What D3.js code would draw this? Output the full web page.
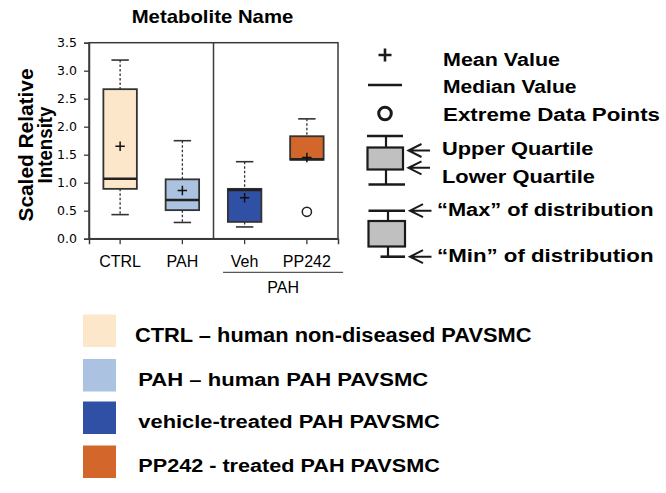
<!DOCTYPE html>
<html>
<head>
<meta charset="utf-8">
<script src="https://cdn.jsdelivr.net/npm/d3@7"></script>
<style>
  html, body { margin: 0; padding: 0; background: #fff; }
  svg { display: block; }
  text { font-family: "Liberation Sans", Arial, sans-serif; fill: #000; }
</style>
</head>
<body>
<script>
// ---------------- data ----------------
const categories  = ["CTRL", "PAH", "Veh", "PP242"];
const whiskerMax  = [3.19, 1.75, 1.375, 2.14];
const upperQ      = [2.67, 1.06, 0.89, 1.83];
const medians     = [1.07, 0.69, 0.87, 1.42];
const lowerQ      = [0.89, 0.51, 0.30, 1.41];
const whiskerMin  = [0.43, 0.29, 0.21, 1.41];
const means       = [1.65, 0.86, 0.73, 1.45];
const outlierCats   = ["PP242"];
const outlierValues = [0.48];
const yTicks      = [0, 0.5, 1.0, 1.5, 2.0, 2.5, 3.0, 3.5];
const groupCats   = ["Veh", "PP242"];
const groupLabel  = "PAH";
const boxColors   = ["#fde7cb", "#abc3e1", "#3050a6", "#d2662b"];
const legendLabels = [
  "CTRL \u2013 human non-diseased PAVSMC",
  "PAH \u2013 human PAH PAVSMC",
  "vehicle-treated PAH PAVSMC",
  "PP242 - treated PAH PAVSMC"
];
const keyLabels = [
  "Mean Value", "Median Value", "Extreme Data Points",
  "Upper Quartile", "Lower Quartile",
  "\u201cMax\u201d of distribution", "\u201cMin\u201d of distribution"
];
const chartTitle = "Metabolite Name";
const yTitleLines = ["Scaled Relative", "Intensity"];

// ---------------- layout ----------------
const W = 666, H = 493;
const plot = { left: 89, right: 338, top: 42.7, bottom: 238.7 };
const svg = d3.select("body").append("svg").attr("width", W).attr("height", H);
svg.append("rect").attr("width", W).attr("height", H).attr("fill", "#fff");

const x = d3.scaleBand().domain(categories)
  .range([plot.left, plot.right]).paddingInner(0.462).paddingOuter(0.231);
const y = d3.scaleLinear().domain([0, 3.5]).range([plot.bottom, plot.top]);
const cx = c => x(c) + x.bandwidth() / 2;

// frame
svg.append("rect")
  .attr("x", plot.left).attr("y", plot.top)
  .attr("width", plot.right - plot.left).attr("height", plot.bottom - plot.top)
  .attr("fill", "none").attr("stroke", "#3a3a3a").attr("stroke-width", 1.5);

// divider between groups
const divX = (x("PAH") + x.bandwidth() + x("Veh")) / 2;
svg.append("line").attr("x1", divX).attr("x2", divX)
  .attr("y1", plot.top).attr("y2", plot.bottom)
  .attr("stroke", "#3a3a3a").attr("stroke-width", 1.5);

// y axis
const yAxis = svg.append("g").attr("transform", `translate(${plot.left},0)`)
  .call(d3.axisLeft(y).tickValues(yTicks).tickFormat(d3.format(".1f")).tickSize(5).tickPadding(7));
yAxis.select(".domain").attr("stroke", "#3a3a3a").attr("stroke-width", 1.5);
yAxis.selectAll(".tick line").attr("stroke", "#3a3a3a").attr("stroke-width", 1.3);
yAxis.selectAll(".tick text")
  .style("font-family", "'DejaVu Sans', sans-serif").style("font-size", "12.5px").attr("fill", "#222");

// x axis
const xAxis = svg.append("g").attr("transform", `translate(0,${plot.bottom})`)
  .call(d3.axisBottom(x).tickSize(5.5).tickPadding(11));
xAxis.select(".domain").attr("stroke", "#3a3a3a").attr("stroke-width", 1.5);
xAxis.selectAll(".tick line").attr("stroke", "#3a3a3a").attr("stroke-width", 1.3);
xAxis.selectAll(".tick text")
  .style("font-family", "'Liberation Sans', Arial, sans-serif").style("font-size", "16px").attr("fill", "#111");

// group bracket
const gx1 = x(groupCats[0]) - 4.8, gx2 = x(groupCats[groupCats.length - 1]) + x.bandwidth() + 19.5;
svg.append("line").attr("x1", gx1).attr("x2", gx2).attr("y1", 272.3).attr("y2", 272.3)
  .attr("stroke", "#555").attr("stroke-width", 1.2);
svg.append("text").attr("x", (gx1 + gx2) / 2).attr("y", 293.3).attr("text-anchor", "middle")
  .style("font-size", "16px").attr("fill", "#111").text(groupLabel);

// boxes
const bw = x.bandwidth();
const capHalf = 8.7;
const boxData = categories.map((c, i) => ({
  c, max: whiskerMax[i], q3: upperQ[i], med: medians[i], q1: lowerQ[i], min: whiskerMin[i],
  mean: means[i], color: boxColors[i]
}));
const g = svg.append("g");
const bx = g.selectAll("g.box").data(boxData).join("g").attr("class", "box");
// whiskers (dashed)
bx.append("line").attr("x1", d => cx(d.c)).attr("x2", d => cx(d.c))
  .attr("y1", d => y(d.max)).attr("y2", d => y(d.q3))
  .attr("stroke", "#333").attr("stroke-width", 1.3).attr("stroke-dasharray", "2.5,2");
bx.filter(d => d.min < d.q1).append("line").attr("x1", d => cx(d.c)).attr("x2", d => cx(d.c))
  .attr("y1", d => y(d.q1)).attr("y2", d => y(d.min))
  .attr("stroke", "#333").attr("stroke-width", 1.3).attr("stroke-dasharray", "2.5,2");
// caps
bx.append("line").attr("x1", d => cx(d.c) - capHalf).attr("x2", d => cx(d.c) + capHalf)
  .attr("y1", d => y(d.max)).attr("y2", d => y(d.max))
  .attr("stroke", "#333").attr("stroke-width", 1.6);
bx.filter(d => d.min < d.q1).append("line").attr("x1", d => cx(d.c) - capHalf).attr("x2", d => cx(d.c) + capHalf)
  .attr("y1", d => y(d.min)).attr("y2", d => y(d.min))
  .attr("stroke", "#333").attr("stroke-width", 1.6);
// box
bx.append("rect").attr("x", d => x(d.c)).attr("width", bw)
  .attr("y", d => y(d.q3)).attr("height", d => y(d.q1) - y(d.q3))
  .attr("fill", d => d.color).attr("stroke", "#333").attr("stroke-width", 1.8);
// median
bx.append("line").attr("x1", d => x(d.c)).attr("x2", d => x(d.c) + bw)
  .attr("y1", d => y(d.med)).attr("y2", d => y(d.med))
  .attr("stroke", "#222").attr("stroke-width", 2.4);
// mean +
const pm = 4.7;
bx.append("path")
  .attr("d", d => `M${cx(d.c) - pm},${y(d.mean)}H${cx(d.c) + pm}M${cx(d.c)},${y(d.mean) - pm}V${y(d.mean) + pm}`)
  .attr("stroke", "#111").attr("stroke-width", 1.5).attr("fill", "none");
// outliers
g.selectAll("circle.out").data(outlierCats.map((c, i) => ({ c, v: outlierValues[i] })))
  .join("circle").attr("class", "out")
  .attr("cx", d => cx(d.c)).attr("cy", d => y(d.v)).attr("r", 4.6)
  .attr("fill", "#fff").attr("stroke", "#222").attr("stroke-width", 1.5);

// title
svg.append("text").attr("x", 131.7).attr("y", 22.7)
  .attr("textLength", 161.6).attr("lengthAdjust", "spacingAndGlyphs")
  .style("font-size", "17.7px").style("font-weight", "bold").text(chartTitle);

// y title
const yt = svg.append("text").attr("transform", "translate(0,145) rotate(-90)")
  .attr("text-anchor", "middle").style("font-size", "20.5px").style("font-weight", "bold");
yt.append("tspan").attr("x", 0).attr("y", 33)
  .attr("textLength", 153).attr("lengthAdjust", "spacingAndGlyphs").text(yTitleLines[0]);
yt.append("tspan").attr("x", 0).attr("y", 52)
  .attr("textLength", 77).attr("lengthAdjust", "spacingAndGlyphs").text(yTitleLines[1]);

// ---------------- key (right) ----------------
const key = svg.append("g");
const ks = { stroke: "#1a1a1a", sw: 2.6 };
// plus
key.append("path").attr("d", "M378.5,55H391.5M385,48.5V61.5")
  .attr("stroke", ks.stroke).attr("stroke-width", ks.sw).attr("fill", "none");
// median line
key.append("line").attr("x1", 368).attr("x2", 402).attr("y1", 85).attr("y2", 85)
  .attr("stroke", ks.stroke).attr("stroke-width", ks.sw);
// circle
key.append("circle").attr("cx", 385).attr("cy", 113.5).attr("r", 6.3)
  .attr("fill", "#fff").attr("stroke", ks.stroke).attr("stroke-width", 3);
// box symbols
function keyBox(cxk, capTop, boxTop, boxBot, capBot, x0, x1, bx0, bx1, cb0, cb1) {
  key.append("line").attr("x1", cxk).attr("x2", cxk).attr("y1", capTop).attr("y2", capBot)
    .attr("stroke", ks.stroke).attr("stroke-width", 2.2);
  key.append("line").attr("x1", x0).attr("x2", x1).attr("y1", capTop).attr("y2", capTop)
    .attr("stroke", ks.stroke).attr("stroke-width", ks.sw);
  key.append("line").attr("x1", cb0).attr("x2", cb1).attr("y1", capBot).attr("y2", capBot)
    .attr("stroke", ks.stroke).attr("stroke-width", ks.sw);
  key.append("rect").attr("x", bx0).attr("y", boxTop).attr("width", bx1 - bx0).attr("height", boxBot - boxTop)
    .attr("fill", "#c0c0c0").attr("stroke", ks.stroke).attr("stroke-width", 2.2);
}
keyBox(386, 136, 147.5, 169.5, 184.5, 367, 403, 367.5, 403, 368.5, 405);
keyBox(388, 210.7, 221, 246.5, 256.7, 368.5, 405, 368.5, 405, 380.5, 405);
// arrows
function arrow(tipX, yA, len) {
  key.append("path")
    .attr("d", `M${tipX + len},${yA}H${tipX}M${tipX + 13},${yA - 6.5}L${tipX},${yA}L${tipX + 13},${yA + 6.5}`)
    .attr("stroke", ks.stroke).attr("stroke-width", 2).attr("fill", "none");
}
arrow(408.5, 150.5, 21.5);
arrow(408.5, 167.8, 21.5);
arrow(410, 210.7, 21.5);
arrow(410, 256.7, 21.5);

// key labels
const keyText = [
  { x: 443, y: 66, len: 117, fs: 18 },
  { x: 443, y: 93.3, len: 133.5, fs: 18 },
  { x: 443, y: 120.5, len: 217, fs: 18 },
  { x: 442, y: 155.3, len: 151.5, fs: 18 },
  { x: 442, y: 183.3, len: 153, fs: 18 },
  { x: 437, y: 215.5, len: 216.5, fs: 18 },
  { x: 437, y: 261.7, len: 216.5, fs: 18 }
];
key.selectAll("text.k").data(keyLabels).join("text").attr("class", "k")
  .attr("x", (d, i) => keyText[i].x).attr("y", (d, i) => keyText[i].y)
  .attr("textLength", (d, i) => keyText[i].len).attr("lengthAdjust", "spacingAndGlyphs")
  .style("font-size", (d, i) => keyText[i].fs + "px").style("font-weight", "bold").text(d => d);

// ---------------- legend (bottom) ----------------
const legY = [314.5, 359, 401.5, 445.5];
const legText = [
  { x: 135, y: 341.5, len: 396.5, fs: 19.5 },
  { x: 138.3, y: 386, len: 290, fs: 18 },
  { x: 138.3, y: 428.3, len: 301.5, fs: 18 },
  { x: 138.3, y: 471.7, len: 301.5, fs: 18 }
];
const leg = svg.append("g");
leg.selectAll("rect").data(boxColors).join("rect")
  .attr("x", 83).attr("y", (d, i) => legY[i]).attr("width", 33).attr("height", 32.5)
  .attr("fill", d => d);
leg.selectAll("text").data(legendLabels).join("text")
  .attr("x", (d, i) => legText[i].x).attr("y", (d, i) => legText[i].y)
  .attr("textLength", (d, i) => legText[i].len).attr("lengthAdjust", "spacingAndGlyphs")
  .style("font-size", (d, i) => legText[i].fs + "px").style("font-weight", "bold").text(d => d);
</script>
</body>
</html>
